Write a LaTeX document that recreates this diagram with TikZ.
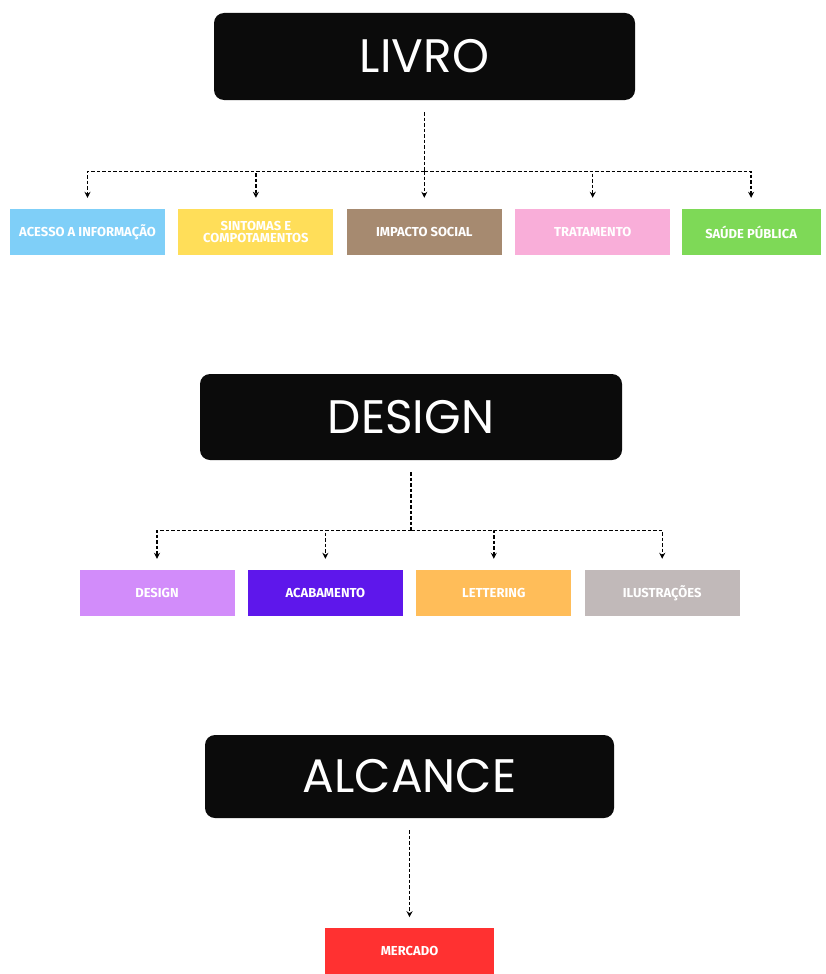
\documentclass[tikz,border=0pt]{standalone}
\usepackage{fontspec}
\setmainfont{Fira Sans}
\newfontfamily\headfont{Poppins}
\usetikzlibrary{arrows.meta, positioning, calc}

\definecolor{headblack}{HTML}{0B0B0B}
\definecolor{cacesso}{HTML}{7FCFF8}
\definecolor{csintomas}{HTML}{FFDE59}
\definecolor{cimpacto}{HTML}{A68A70}
\definecolor{ctratamento}{HTML}{F9AED9}
\definecolor{csaude}{HTML}{7ED957}
\definecolor{cdesign}{HTML}{D28CFA}
\definecolor{cacabamento}{HTML}{5E17EB}
\definecolor{clettering}{HTML}{FFBD59}
\definecolor{cilustracoes}{HTML}{C1B9B9}
\definecolor{cmercado}{HTML}{FF3131}

\begin{document}
\begin{tikzpicture}[
    x=1pt, y=1pt,
    head/.style={rectangle, fill=headblack, rounded corners=10pt, text=white, inner sep=0pt, font=\headfont\fontsize{47}{47}\selectfont},
    leaf/.style={rectangle, minimum width=155pt, minimum height=46pt, inner sep=0pt, align=center, text=white, font=\bfseries\fontsize{13}{12.5}\selectfont},
    dashline/.style={dash pattern=on 3.5pt off 2pt, line width=1.4pt},
    link/.style={dashline, -{Stealth[length=6pt, width=6pt]}, shorten >=11pt}
]
    \useasboundingbox (0,0) rectangle (826,-974);

    % Group 1: livro
    \node[head, minimum width=421pt, minimum height=87pt] (livro) at (424.5,-56.5) {LIVRO};

    \node[leaf, fill=cacesso] (acesso) at (87.5,-232) {ACESSO A INFORMAÇÃO};
    \node[leaf, fill=csintomas, right=13pt of acesso] (sintomas) {SINTOMAS E\\COMPOTAMENTOS};
    \node[leaf, fill=cimpacto, right=13pt of sintomas] (impacto) {IMPACTO SOCIAL};
    \node[leaf, fill=ctratamento, right=13pt of impacto] (tratamento) {TRATAMENTO};
    \node[leaf, fill=csaude, minimum width=139pt, right=11pt of tratamento] (saude) {SAÚDE PÚBLICA};

    \coordinate (bus1) at ([yshift=-71pt]livro.south);
    \draw[dashline] ([yshift=-12pt]livro.south) -- (bus1);
    \foreach \c in {acesso, sintomas, impacto, tratamento, saude}
        \draw[link] (bus1) -| (\c);

    % Group 2: design
    \node[head, minimum width=422pt, minimum height=86pt] (design) at (411,-417) {DESIGN};

    \node[leaf, fill=cdesign] (designleaf) at (157,-593) {DESIGN};
    \node[leaf, fill=cacabamento, right=13pt of designleaf] (acabamento) {ACABAMENTO};
    \node[leaf, fill=clettering, right=13pt of acabamento] (lettering) {LETTERING};
    \node[leaf, fill=cilustracoes, right=13pt of lettering] (ilustracoes) {ILUSTRAÇÕES};

    \coordinate (bus2) at ([yshift=-70pt]design.south);
    \draw[dashline] ([yshift=-12pt]design.south) -- (bus2);
    \foreach \c in {designleaf, acabamento, lettering, ilustracoes}
        \draw[link] (bus2) -| (\c);

    % Group 3: alcance
    \node[head, minimum width=409pt, minimum height=83pt] (alcance) at (409.5,-776.5) {ALCANCE};

    \node[leaf, fill=cmercado, minimum width=169pt, below=110pt of alcance] (mercado) {MERCADO};

    \draw[link, shorten <=12pt] (alcance) -- (mercado);

\end{tikzpicture}
\end{document}
